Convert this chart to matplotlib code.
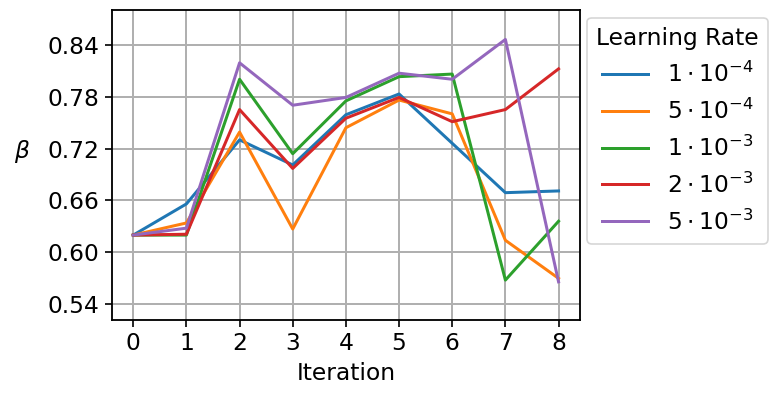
import matplotlib
matplotlib.use('Agg')
import matplotlib.pyplot as plt

# beta per iteration, one list per learning rate
iterations = list(range(9))
lr_labels = [r'$1\cdot10^{-4}$', r'$5\cdot10^{-4}$', r'$1\cdot10^{-3}$',
             r'$2\cdot10^{-3}$', r'$5\cdot10^{-3}$']
beta_1e4 = [0.620, 0.656, 0.730, 0.701, 0.759, 0.783, 0.726, 0.669, 0.671]
beta_5e4 = [0.620, 0.634, 0.739, 0.627, 0.744, 0.776, 0.760, 0.614, 0.570]
beta_1e3 = [0.620, 0.620, 0.800, 0.714, 0.775, 0.803, 0.806, 0.568, 0.636]
beta_2e3 = [0.620, 0.621, 0.765, 0.697, 0.755, 0.779, 0.751, 0.765, 0.812]
beta_5e3 = [0.620, 0.628, 0.819, 0.770, 0.779, 0.807, 0.800, 0.846, 0.566]
yticks = [0.54, 0.60, 0.66, 0.72, 0.78, 0.84]

series = [beta_1e4, beta_5e4, beta_1e3, beta_2e3, beta_5e3]

plt.rcParams['font.size'] = 14
plt.rcParams['xtick.major.size'] = 4
plt.rcParams['ytick.major.size'] = 4
plt.rcParams['xtick.major.width'] = 1.0
plt.rcParams['ytick.major.width'] = 1.0

DPI = 120
fig, ax = plt.subplots(figsize=(769 / DPI, 394 / DPI), dpi=DPI)

for vals, lab in zip(series, lr_labels):
    ax.plot(iterations, vals, label=lab, linewidth=1.8)

ax.set_xticks(iterations)
ax.set_yticks(yticks)
ax.set_ylim(0.522, 0.880)
ax.set_xlim(-0.4, 8.4)
ax.grid(True, color='#b0b0b0', linewidth=1.2)
ax.set_axisbelow(True)
ax.set_xlabel('Iteration')
ax.set_ylabel(r'$\beta$', rotation=0, labelpad=15)
for s in ax.spines.values():
    s.set_linewidth(1.1)

ax.legend(title='Learning Rate', loc='upper left', bbox_to_anchor=(1.015, 0.975),
          borderaxespad=0.0)

fig.subplots_adjust(left=0.1456, right=0.754, top=0.9746, bottom=0.188)
fig.savefig('out.png', dpi=DPI)
